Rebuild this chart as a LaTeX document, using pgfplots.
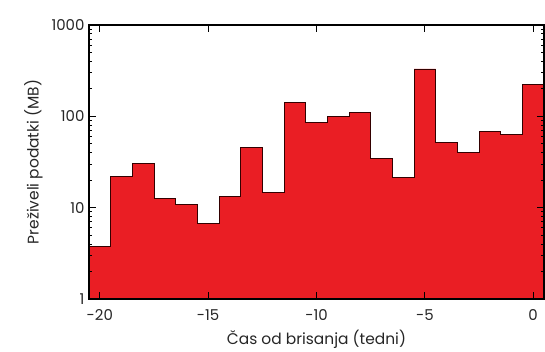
\documentclass[border=0pt]{standalone}
\usepackage{pgfplots}
\pgfplotsset{compat=1.18}
\usepackage{fontspec}
\setmainfont{Poppins}
\definecolor{barred}{RGB}{234,30,36}
\pgfplotstableread{
x y
-20.5 3.8
-19.5 22
-18.5 30.5
-17.5 12.5
-16.5 10.8
-15.5 6.7
-14.5 13.2
-13.5 45.6
-12.5 14.6
-11.5 142
-10.5 86
-9.5 100
-8.5 110
-7.5 34.5
-6.5 21.3
-5.5 330
-4.5 52
-3.5 40
-2.5 68
-1.5 63
-0.5 225
0.5 225
}\hist
\begin{document}
\begin{tikzpicture}
\useasboundingbox (-89bp,-53bp) rectangle (456bp,299bp);
\begin{axis}[
  at={(0,0)}, anchor=south west,
  scale only axis, width=455bp, height=274bp,
  ymode=log, ymin=1, ymax=1000,
  xmin=-20.5, xmax=0.5,
  ytick={1,10,100,1000}, yticklabels={1,10,100,1000},
  xtick={-20,-15,-10,-5,0}, xticklabels={-20,-15,-10,-5,0},
  minor tick num=0, minor ytick={},
  tick align=inside, major tick length=7bp,
  axis line style={line width=1.1pt},
  tick style={line width=0.9pt, black},
  /pgf/number format/assume math mode=true,
  ticklabel style={font=\fontsize{15}{17}\selectfont, text=black!85},
  xticklabel style={yshift=-7bp},
  yticklabel style={xshift=-1bp},
  label style={font=\fontsize{15.5}{17}\selectfont, text=black!85},
  xlabel={Čas od brisanja (tedni)},
  ylabel={Preživeli podatki (MB)},
  xlabel style={yshift=-3bp},
  ylabel style={yshift=2bp},
  axis on top,
]
\addplot[const plot mark left, fill=barred, draw=black!80!red, line width=0.9pt] table[x=x,y=y]{\hist} \closedcycle;
\end{axis}
\end{tikzpicture}
\end{document}
